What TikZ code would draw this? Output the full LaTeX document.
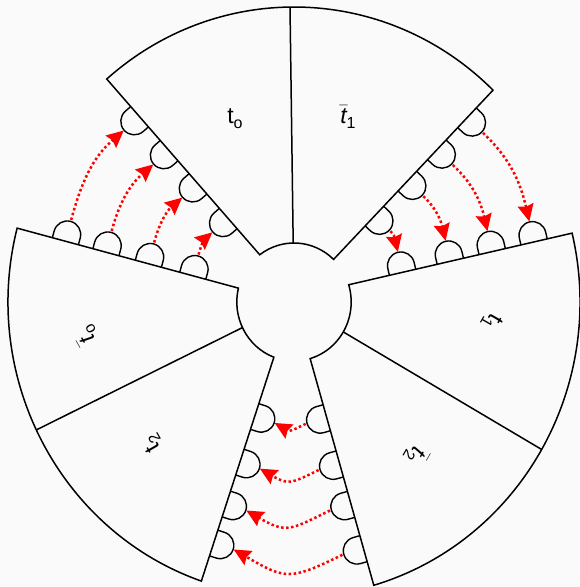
\documentclass[tikz,border=0pt]{standalone}
\usepackage{fontspec}
\setmainfont{Liberation Sans}
\usetikzlibrary{calc,arrows.meta}
\definecolor{bg}{RGB}{250,250,250}
\definecolor{arr}{RGB}{255,0,0}
\newcommand{\tbar}{$\bar{\hbox{\itshape t}}$}
\newcommand{\subs}[1]{\raisebox{-0.22em}{\fontsize{16}{16}\selectfont #1}}
\tikzset{
  outline/.style={line width=1.5pt, line join=miter},
  bumpline/.style={line width=1.4pt},
  redarrow/.style={draw=arr, line width=2.5pt, dash pattern=on 2.5pt off 2.5pt,
    -{Stealth[length=17pt 0 0,width=16pt 0 0,inset=2pt]}, shorten <=1pt},
  lab/.style={font=\fontsize{23}{26}\selectfont, inner sep=0pt},
  bump/.pic={\draw[bumpline] (-13.5,0) -- (-13.5,7) arc[start angle=180,end angle=0,radius=13.5] -- (13.5,0);
             \coordinate (-top) at (0,21);}
}
\begin{document}
\begin{tikzpicture}[x=1pt,y=1pt]
\fill[bg] (0,0) rectangle (579,587);
\useasboundingbox (0,0) rectangle (579,587);
\coordinate (C) at (294,285);
% petal corners
\coordinate (TLo) at ($(C)+(130.9:286pt and 295pt)$);
\coordinate (TLi) at ($(C)+(126.8:57.2pt and 59pt)$);
\coordinate (TRo) at ($(C)+(45.9:286pt and 295pt)$);
\coordinate (TRi) at ($(C)+(46.2:57.2pt and 59pt)$);
\coordinate (LUo) at ($(C)+(165.5:286pt and 295pt)$);
\coordinate (LUi) at ($(C)+(166.4:57.2pt and 59pt)$);
\coordinate (LLo) at ($(C)+(251.1:286pt and 295pt)$);
\coordinate (LLi) at ($(C)+(249.4:57.2pt and 59pt)$);
\coordinate (RUo) at ($(C)+(13.5:286pt and 295pt)$);
\coordinate (RUi) at ($(C)+(17:57.2pt and 59pt)$);
\coordinate (RLo) at ($(C)+(286.2:286pt and 295pt)$);
\coordinate (RLi) at ($(C)+(286.4:57.2pt and 59pt)$);
% divider ends
\coordinate (TDi) at ($(C)+(90.8:57.2pt and 59pt)$);
\coordinate (TDo) at ($(C)+(90.8:286pt and 295pt)$);
\coordinate (LDi) at ($(C)+(205.7:57.2pt and 59pt)$);
\coordinate (LDo) at ($(C)+(205.7:286pt and 295pt)$);
\coordinate (RDi) at ($(C)+(329.5:57.2pt and 59pt)$);
\coordinate (RDo) at ($(C)+(330:286pt and 295pt)$);
% petals
\draw[outline] (TLi) -- (TLo) arc[start angle=130.9,end angle=45.9,x radius=286pt,y radius=295pt]
  -- (TRi) arc[start angle=46.2,end angle=126.8,x radius=57.2pt,y radius=59pt] -- cycle;
\draw[outline] (LUi) -- (LUo) arc[start angle=165.5,end angle=251.1,x radius=286pt,y radius=295pt]
  -- (LLi) arc[start angle=249.4,end angle=166.4,x radius=57.2pt,y radius=59pt] -- cycle;
\draw[outline] (RLi) -- (RLo) arc[start angle=286.2,end angle=373.5,x radius=286pt,y radius=295pt]
  -- (RUi) arc[start angle=377,end angle=286.4,x radius=57.2pt,y radius=59pt] -- cycle;
\draw[outline] (TDi) -- (TDo);
\draw[outline] (LDi) -- (LDo);
\draw[outline] (RDi) -- (RDo);
% bumps, upper-left gap
\pic[rotate=-15.2] (a1) at ($(LUo)!50pt!(LUi)$) {bump};
\pic[rotate=-15.2] (a2) at ($(LUo)!92pt!(LUi)$) {bump};
\pic[rotate=-15.2] (a3) at ($(LUo)!136pt!(LUi)$) {bump};
\pic[rotate=-15.2] (a4) at ($(LUo)!182pt!(LUi)$) {bump};
\pic[rotate=131] (b1) at ($(TLo)!50pt!(TLi)$) {bump};
\pic[rotate=131] (b2) at ($(TLo)!95pt!(TLi)$) {bump};
\pic[rotate=131] (b3) at ($(TLo)!139pt!(TLi)$) {bump};
\pic[rotate=131] (b4) at ($(TLo)!185pt!(TLi)$) {bump};
% upper-right gap
\pic[rotate=-133.3] (c1) at ($(TRo)!38pt!(TRi)$) {bump};
\pic[rotate=-133.3] (c2) at ($(TRo)!82pt!(TRi)$) {bump};
\pic[rotate=-133.3] (c3) at ($(TRo)!125pt!(TRi)$) {bump};
\pic[rotate=-133.3] (c4) at ($(TRo)!173pt!(TRi)$) {bump};
\pic[rotate=13] (d1) at ($(RUo)!39pt!(RUi)$) {bump};
\pic[rotate=13] (d2) at ($(RUo)!82pt!(RUi)$) {bump};
\pic[rotate=13] (d3) at ($(RUo)!125pt!(RUi)$) {bump};
\pic[rotate=13] (d4) at ($(RUo)!174pt!(RUi)$) {bump};
% bottom gap
\pic[rotate=105.7] (e1) at ($(RLo)!38pt!(RLi)$) {bump};
\pic[rotate=105.7] (e2) at ($(RLo)!84pt!(RLi)$) {bump};
\pic[rotate=105.7] (e3) at ($(RLo)!126pt!(RLi)$) {bump};
\pic[rotate=105.7] (e4) at ($(RLo)!174pt!(RLi)$) {bump};
\pic[rotate=252.1] (f1) at ($(LLo)!40pt!(LLi)$) {bump};
\pic[rotate=252.1] (f2) at ($(LLo)!81pt!(LLi)$) {bump};
\pic[rotate=252.1] (f3) at ($(LLo)!125pt!(LLi)$) {bump};
\pic[rotate=252.1] (f4) at ($(LLo)!173pt!(LLi)$) {bump};
% arrows
\foreach \i in {1,...,4}{
  \draw[redarrow] (a\i-top) to[out=74.8,in=221] (b\i-top);
  \draw[redarrow] (c\i-top) to[out=-43.3,in=103] (d\i-top);
  \draw[redarrow] (e\i-top) to[out=206,in=330,looseness=1.4] (f\i-top);
}
% labels
\node[lab] (l0) at (235,468) {t\subs{o}};
\node[lab] (l1) at (348,470) {\tbar\subs{1}};
\node[lab,rotate=120] (l2) at (86,252) {\tbar\subs{o}};
\node[lab,rotate=120] (l3) at (152,144) {t\subs{2}};
\node[lab,rotate=-120] (l4) at (492,265) {t\subs{1}};
\node[lab,rotate=-120] (l5) at (416,132) {\tbar\subs{2}};
\end{tikzpicture}
\end{document}
